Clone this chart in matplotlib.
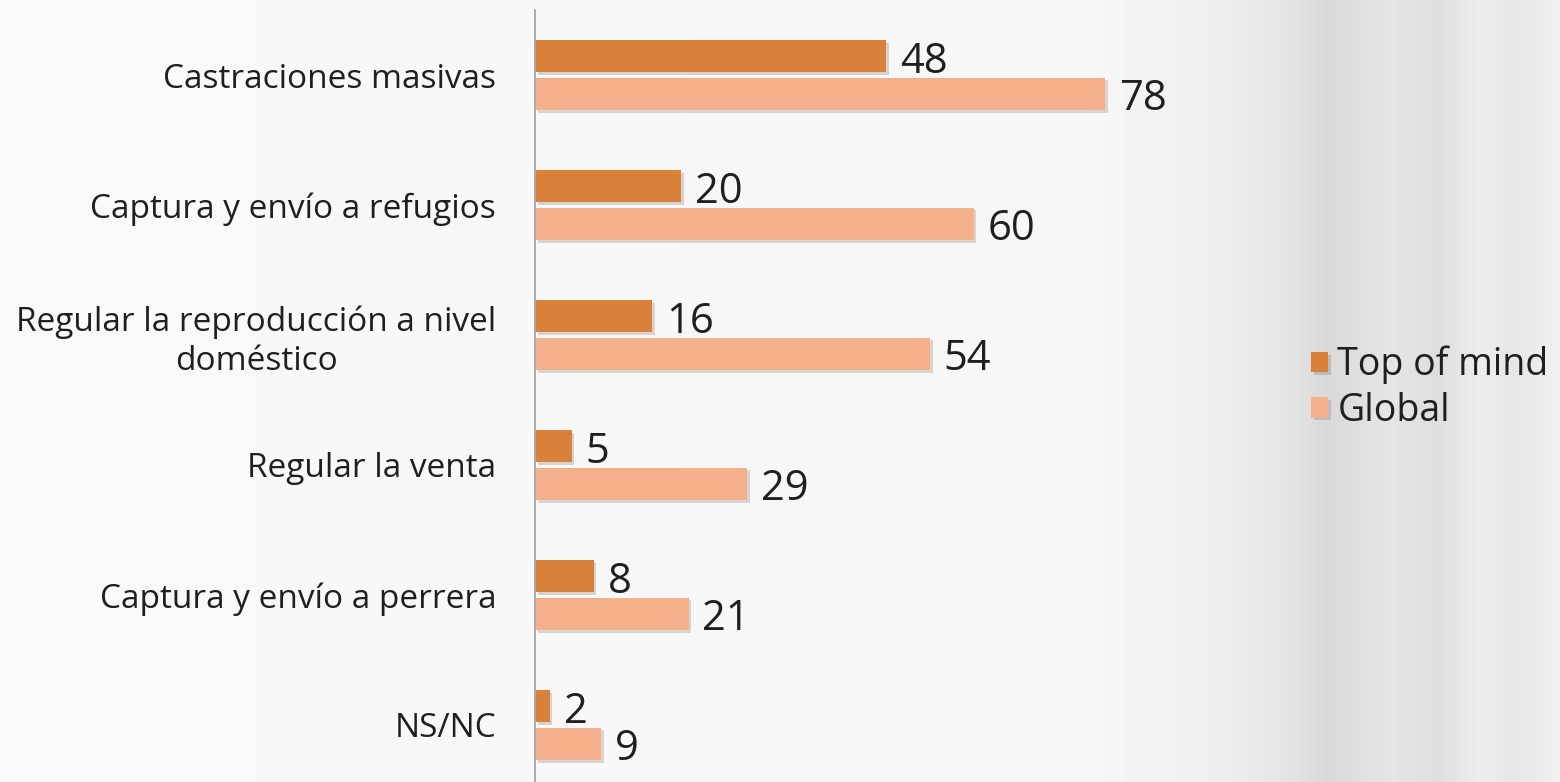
import numpy as np
import matplotlib
matplotlib.use("Agg")
import matplotlib.pyplot as plt
import matplotlib.patheffects as pe

plt.rcParams['font.family'] = ['Open Sans', 'DejaVu Sans']

categories = [
    "Castraciones masivas",
    "Captura y envío a refugios",
    "Regular la reproducción a nivel\ndoméstico",
    "Regular la venta",
    "Captura y envío a perrera",
    "NS/NC",
]
top_of_mind = [48, 20, 16, 5, 8, 2]
global_vals = [78, 60, 54, 29, 21, 9]
series_names = ["Top of mind", "Global"]
colors = ["#D9803A", "#F4B08A"]
text_color = "#1f1f1f"

fig = plt.figure(figsize=(15.6, 7.82), dpi=100)

# soft grey background, lighter on the left, darker bands on the right
bg = fig.add_axes([0, 0, 1, 1], zorder=-1)
xs = np.linspace(0, 1, 1560)
stops_x = [0.0, 0.70, 0.78, 0.83, 0.85, 0.87, 0.89, 0.92, 0.95, 0.97, 1.0]
stops_v = [0.975, 0.965, 0.935, 0.89, 0.85, 0.87, 0.90, 0.87, 0.93, 0.90, 0.94]
row = np.interp(xs, stops_x, stops_v)
bg.imshow(np.tile(row, (10, 1)), cmap="gray", vmin=0, vmax=1,
          aspect="auto", extent=[0, 1, 0, 1])
bg.axis("off")

ax = fig.add_axes([0.343, -0.0102, 0.4006, 0.9974])
ax.set_facecolor("none")

y = np.arange(len(categories))
h = 0.25
off = 0.145
shadow = [pe.SimplePatchShadow(offset=(2, -2), alpha=0.18), pe.Normal()]

b1 = ax.barh(y - off, top_of_mind, height=h, color=colors[0], label=series_names[0])
b2 = ax.barh(y + off, global_vals, height=h, color=colors[1], label=series_names[1])
for bars in (b1, b2):
    for b in bars:
        b.set_path_effects(shadow)

for bars, vals in ((b1, top_of_mind), (b2, global_vals)):
    for b, v in zip(bars, vals):
        ax.annotate(str(v), (b.get_width(), b.get_y() + b.get_height() / 2),
                    xytext=(10, -4), textcoords="offset points",
                    ha="left", va="center", fontsize=30, color=text_color)

ax.set_xlim(0, 85.5)
ax.set_ylim(len(categories) - 0.5, -0.5)
ax.set_xticks([])
ax.set_yticks(y)
ax.set_yticklabels(categories, fontsize=24, color=text_color,
                   multialignment="center", linespacing=1.25)
ax.tick_params(axis="y", length=0, pad=28)
for s in ("top", "right", "bottom"):
    ax.spines[s].set_visible(False)
ax.spines["left"].set_color("#a6a6a6")
ax.spines["left"].set_linewidth(1.3)

fig.legend(handles=[b1, b2], labels=series_names, loc="center left",
           bbox_to_anchor=(1311 / 1560, 0.504), frameon=False,
           fontsize=27, handlelength=0.45, handleheight=0.45,
           handletextpad=0.25, labelspacing=0.2, borderpad=0,
           borderaxespad=0, labelcolor=text_color)

fig.savefig("out.png", dpi=100)
